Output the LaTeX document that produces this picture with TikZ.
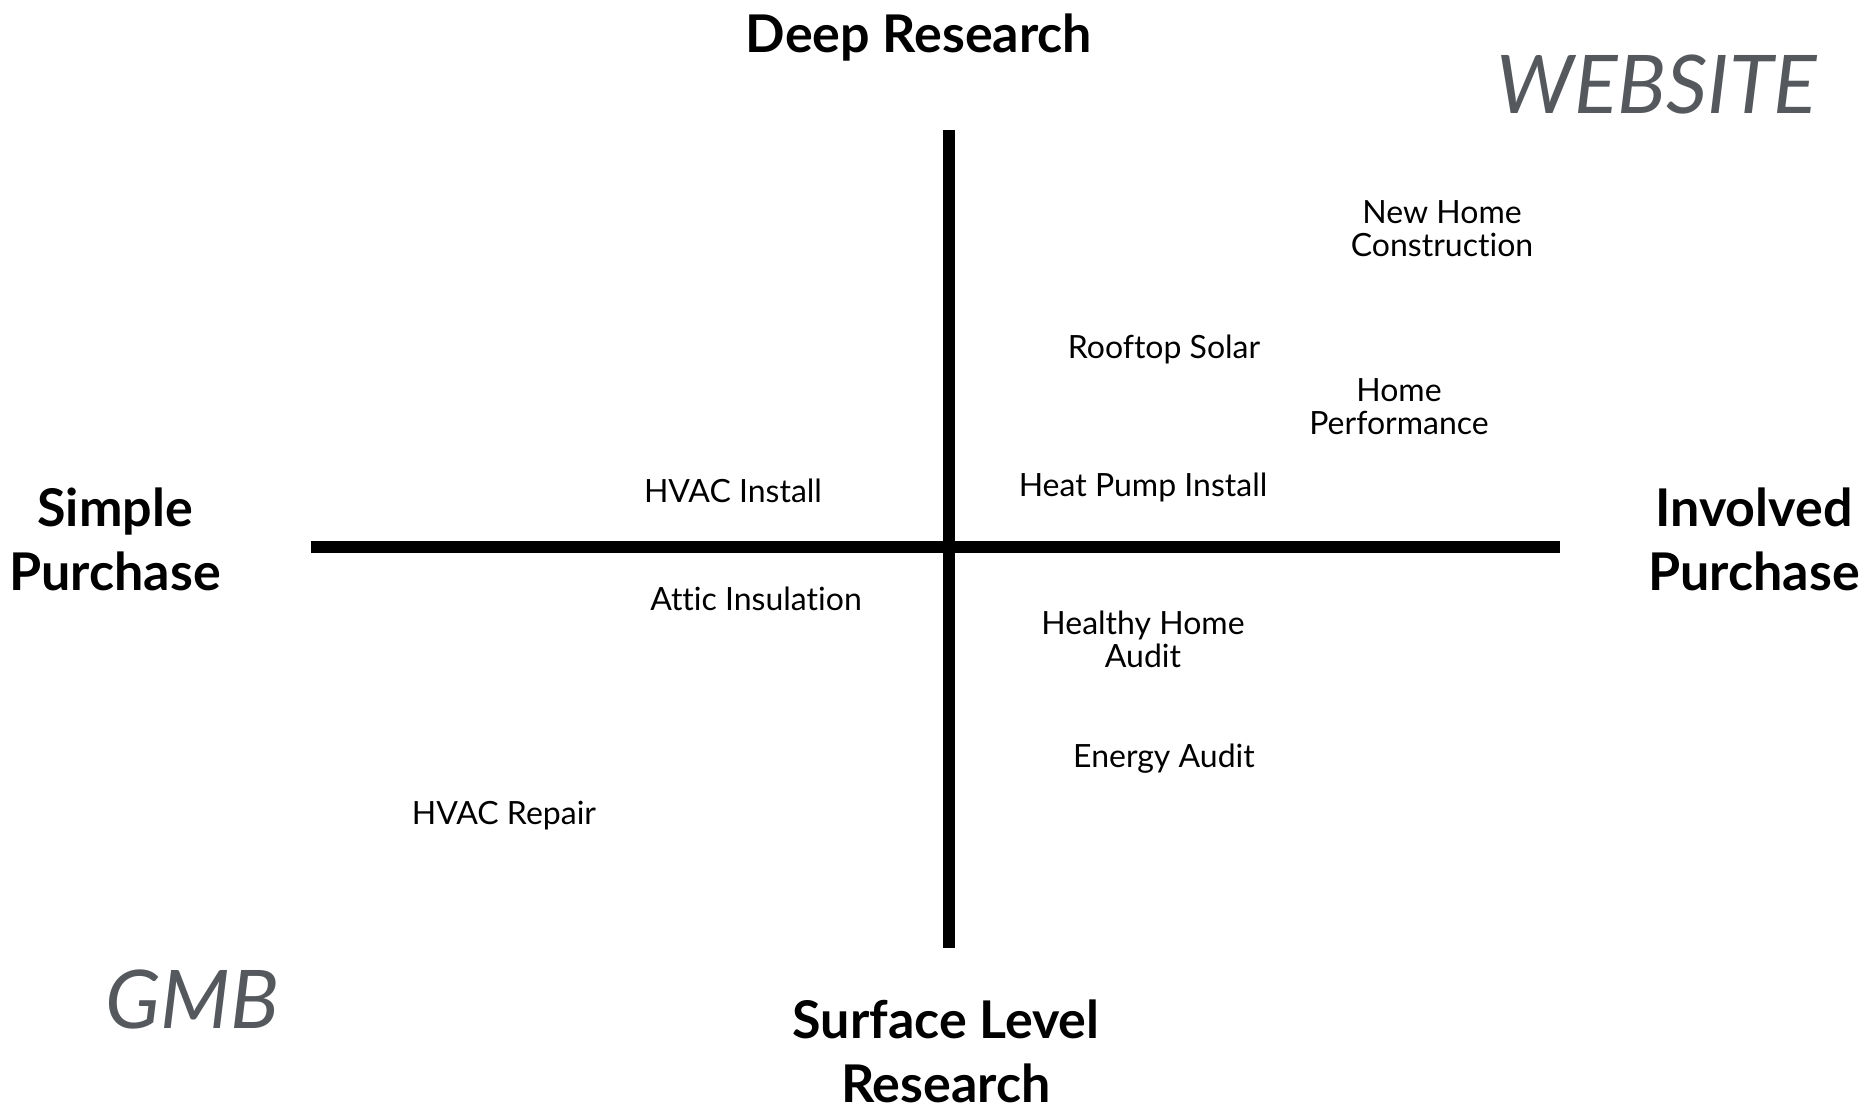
\documentclass[tikz,border=0pt]{standalone}
\usepackage{fontspec}
\setmainfont{Lato}[Ligatures=NoCommon]
\definecolor{channelgray}{RGB}{85,89,94}
\begin{document}
\begin{tikzpicture}[
    x=1pt, y=-1pt,
    axis/.style={line width=12.5pt},
    pole/.style={font=\fontsize{52}{64}\selectfont\bfseries, align=center, anchor=base, inner sep=0pt},
    item/.style={font=\fontsize{32}{33}\selectfont, align=center, anchor=base, inner sep=0pt},
    channel/.style={font=\fontsize{81}{90}\selectfont\itshape, text=channelgray, anchor=base, inner sep=0pt}
  ]
  \useasboundingbox (0,0) rectangle (1863,1111);

  % axes
  \coordinate (top) at (949,130);
  \coordinate (bottom) at (949,948);
  \coordinate (left) at (311,547);
  \coordinate (right) at (1560,547);
  \draw[axis] (left) -- (right);
  \draw[axis] (top) -- (bottom);

  % axis ends (multi-line nodes sit on their last baseline)
  \node[pole] (deep) at (919,52) {Deep Research};
  \node[pole] (surface) at (946,1102) {Surface Level\\Research};
  \node[pole] (simple) at (115,590) {Simple\\Purchase};
  \node[pole] (involved) at (1754,590) {Involved\\Purchase};

  % channels
  \node[channel] (website) at (1657,113) {WEBSITE};
  \node[channel] (gmb) at (192,1028) {GMB};

  % services
  \node[item] (newhome) at (1442,256) {New Home\\Construction};
  \node[item] (solar) at (1164,358) {Rooftop Solar};
  \node[item] (homeperf) at (1399,434) {Home\\Performance};
  \node[item] (heatpump) at (1143,496) {Heat Pump Install};
  \node[item] (hvacinstall) at (733,502) {HVAC Install};
  \node[item] (attic) at (756,610) {Attic Insulation};
  \node[item] (healthy) at (1143,667) {Healthy Home\\Audit};
  \node[item] (energy) at (1164,767) {Energy Audit};
  \node[item] (hvacrepair) at (504,824) {HVAC Repair};
\end{tikzpicture}
\end{document}
